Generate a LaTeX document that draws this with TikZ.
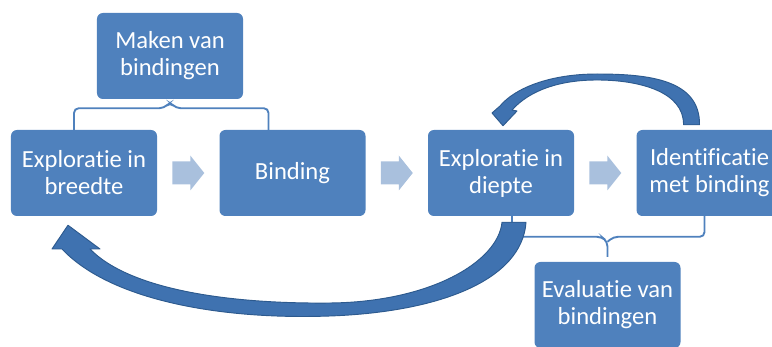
\documentclass[tikz,border=0pt]{standalone}
\usepackage{fontspec}
\setmainfont{Carlito}[Ligatures=NoCommon]
\usetikzlibrary{positioning,calc}

\definecolor{boxblue}{HTML}{4F81BD}
\definecolor{chevblue}{HTML}{A9C0DD}
\definecolor{curveblue}{HTML}{3F72B0}
\definecolor{curveedge}{HTML}{2D5A8E}

\begin{document}
\begin{tikzpicture}[x=0.03cm,y=-0.03cm,node distance=6.255cm,on grid,
    box/.style={rectangle,rounded corners=5pt,fill=boxblue,text=white,
        minimum width=4.38cm,minimum height=2.58cm,align=center,
        font=\fontsize{21}{23}\selectfont},
    chev/.style={fill=chevblue},
    brace/.style={draw=boxblue,line width=1.6pt,rounded corners=4pt},
    bigarrow/.style={fill=curveblue,draw=curveedge,line width=0.8pt,line join=round}]
    \useasboundingbox (0,0) rectangle (772,347);
    % the four steps
    \node[box] (breedte) at (84,173) {Exploratie in\\breedte};
    \node[box] (binding) [right=of breedte] {Binding};
    \node[box] (diepte) [right=of binding] {Exploratie in\\diepte};
    \node[box] (ident) [right=of diepte] {Identificatie\\met binding};
    % the two phases
    \node[box] (maken) at (170,56) {Maken van\\bindingen};
    \node[box] (evaluatie) at (607.5,305) {Evaluatie van\\bindingen};
    % chevrons between the steps
    \foreach \a/\b/\n in {breedte/binding/c1,binding/diepte/c2,diepte/ident/c3} {
        \coordinate (\n) at ($(\a.east)!0.5!(\b.west)$);
        \fill[chev] (\n) ++(-16,-11.5) -- ++(18,0) -- ++(0,-6) -- ++(14,17.5)
            -- ++(-14,17.5) -- ++(0,-6) -- ++(-18,0) -- cycle;
    }
    % braces
    \draw[brace] ($(breedte.north)+(-10,0)$) |- ($(maken.south)+(-6,9)$)
        -- ($(maken.south)+(0,3)$) -- ($(maken.south)+(6,9)$)
        -| ($(binding.north)+(-24,0)$);
    \draw[brace] ($(diepte.south)+(11,0)$) |- ($(evaluatie.north)+(-6,-25)$)
        -- ($(evaluatie.north)+(0,-20)$) -- ($(evaluatie.north)+(0,-5)$);
    \draw[brace] ($(ident.south)+(-5,0)$) |- ($(evaluatie.north)+(6,-25)$)
        -- ($(evaluatie.north)+(0,-20)$);
    % curved arrows back
    \filldraw[bigarrow] ($(diepte.south)+(25,6)$) .. controls (522,280) and (440,312) .. (330,316)
        .. controls (220,320) and (110,300) .. (62,249)
        -- (52,249) -- ($(breedte.south)+(-16,9)$) -- (100,249) -- (90,249)
        .. controls (130,290) and (230,304) .. (330,303)
        .. controls (430,302) and (498,262) .. ($(diepte.south)+(1,6)$) -- cycle;
    \filldraw[bigarrow] ($(ident.north)+(-10,-5)$) .. controls (700,80) and (650,74) .. (597,74)
        .. controls (550,74) and (515,88) .. (500,106)
        -- (492,113) -- ($(diepte.north)+(2,-4)$) -- (517,111) -- (512,110)
        .. controls (530,90) and (560,80) .. (597,80)
        .. controls (640,80) and (684,92) .. ($(ident.north)+(-26,-5)$) -- cycle;
\end{tikzpicture}
\end{document}
